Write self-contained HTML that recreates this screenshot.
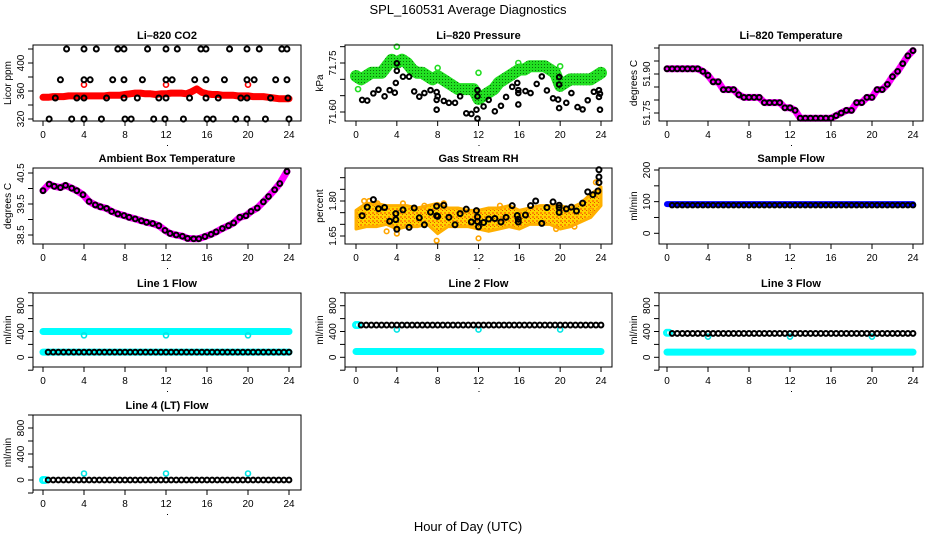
<!DOCTYPE html>
<html><head><meta charset="utf-8"><style>
html,body{margin:0;padding:0;background:#fff;}
svg{display:block;font-family:"Liberation Sans",Arial,sans-serif;}
</style></head><body>
<svg id="chart" width="936" height="540" viewBox="0 0 936 540" xmlns="http://www.w3.org/2000/svg">
<defs>
<pattern id="rhpat" width="4" height="4" patternUnits="userSpaceOnUse">
<rect width="4" height="4" fill="#ffd400"/><rect x="0" y="0" width="2" height="2" fill="#ff8c00"/><rect x="2" y="2" width="1" height="1" fill="#e05000"/>
</pattern>
<pattern id="grpat" width="3" height="3" patternUnits="userSpaceOnUse">
<rect width="3" height="3" fill="#22e022"/><rect x="1" y="1" width="1" height="1" fill="#0a700a"/>
</pattern>
</defs>
<text x="468" y="14" text-anchor="middle" font-size="13">SPL_160531  Average Diagnostics</text>
<text x="468" y="531" text-anchor="middle" font-size="13">Hour of Day (UTC)</text>
</svg>
<script>
// ---------- data ----------
const hours49 = [0,0.5,1,1.5,2,2.5,3,3.5,4,4.5,5,5.5,6,6.5,7,7.5,8,8.5,9,9.5,10,10.5,11,11.5,12,12.5,13,13.5,14,14.5,15,15.5,16,16.5,17,17.5,18,18.5,19,19.5,20,20.5,21,21.5,22,22.5,23,23.5,24];
const hours25 = [0,1,2,3,4,5,6,7,8,9,10,11,12,13,14,15,16,17,18,19,20,21,22,23,24];
const xTicks = [0,4,8,12,16,20,24];

const co2Red = [351,351,352,352,352,353,353,353,353,353,353,353,353,354,354,354,355,356,357,357,356,356,355,356,356,357,357,357,356,359,363,358,356,355,355,354,354,354,353,353,353,352,352,352,351,350,349,349,349];
const co2RedOutH = [4,12,20];
const co2RedOutV = [369,369,369];
const co2BlackH = [2.3,4.0,5.2,7.3,7.9,10.2,12.0,13.1,15.4,15.9,18.2,19.9,21.1,23.3,23.8, 1.7,4.0,4.6,6.8,7.9,9.7,12.0,12.6,14.8,15.9,17.7,19.9,20.6,22.7,23.8, 1.2,3.3,4.0,6.2,7.9,9.2,11.3,12.0,14.3,15.9,17.1,19.3,19.9,22.2,23.9, 0.6,2.8,4.0,5.7,8.0,8.6,10.8,11.9,13.7,16.0,16.6,18.8,19.9,21.7,24.0];
const co2BlackV = [420,420,420,420,420,420,420,420,420,420,420,420,420,420,420, 376,376,376,376,376,376,376,376,376,376,376,376,376,376,376, 350,350,350,350,350,350,350,350,350,350,350,350,350,350,350, 320,320,320,320,320,320,320,320,320,320,320,320,320,320,320];

const presGreen = [71.71,71.70,71.71,71.72,71.72,71.72,71.74,71.76,71.75,71.76,71.75,71.73,71.72,71.72,71.71,71.70,71.71,71.70,71.69,71.68,71.67,71.67,71.67,71.67,71.64,71.65,71.66,71.67,71.69,71.70,71.71,71.72,71.73,71.73,71.74,71.74,71.74,71.74,71.73,71.72,71.68,71.69,71.70,71.70,71.70,71.70,71.70,71.71,71.72];
const presGreenOutH = [4.0,8.0,8.0,12.0,15.9,20.0,23.8,0.2];
const presGreenOutV = [71.80,71.735,71.72,71.72,71.75,71.74,71.715,71.67];
const presBlackH = [0.6,1.1,1.7,2.2,2.8,3.3,3.8,3.9,4.0,4.0,4.6,5.2,5.7,6.2,6.7,7.3,7.9,7.9,8.0,7.9,8.6,9.1,9.7,10.2,10.8,11.3,11.8,11.9,11.9,11.9,12.5,13.0,13.6,14.2,14.7,15.3,15.8,15.9,15.9,15.9,16.6,17.1,17.7,18.2,18.7,19.3,19.8,19.9,19.9,19.9,20.6,21.1,21.7,22.2,22.7,23.3,23.8,23.8,23.9,23.9];
const presBlackV = [71.637,71.635,71.657,71.668,71.648,71.667,71.659,71.689,71.726,71.749,71.708,71.708,71.663,71.647,71.658,71.667,71.661,71.637,71.648,71.607,71.634,71.628,71.628,71.648,71.596,71.594,71.607,71.667,71.648,71.580,71.617,71.637,71.602,71.619,71.646,71.677,71.689,71.667,71.658,71.623,71.664,71.658,71.686,71.709,71.666,71.642,71.638,71.684,71.707,71.612,71.628,71.658,71.615,71.608,71.636,71.662,71.667,71.646,71.656,71.607];

const liTemp = [51.92,51.92,51.92,51.92,51.92,51.92,51.92,51.91,51.895,51.87,51.87,51.84,51.84,51.84,51.82,51.81,51.81,51.81,51.81,51.79,51.79,51.79,51.79,51.77,51.77,51.76,51.73,51.73,51.73,51.73,51.73,51.73,51.73,51.74,51.75,51.76,51.76,51.79,51.79,51.81,51.81,51.84,51.84,51.86,51.89,51.91,51.94,51.97,51.99];

const ambH = [0,0.6,1.1,1.7,2.2,2.8,3.3,3.9,4.5,5.1,5.6,6.2,6.7,7.3,7.9,8.4,9.0,9.6,10.1,10.7,11.3,11.9,12.4,13.0,13.6,14.1,14.7,15.2,15.8,16.4,16.9,17.5,18.1,18.6,19.2,19.8,20.3,20.9,21.5,22.0,22.6,23.1,23.8];
const ambV = [39.93,40.14,40.07,40.03,40.10,40.01,39.93,39.80,39.58,39.47,39.41,39.36,39.26,39.18,39.13,39.07,39.02,38.96,38.91,38.87,38.80,38.65,38.55,38.50,38.46,38.39,38.38,38.38,38.45,38.52,38.60,38.71,38.80,38.89,39.07,39.12,39.26,39.37,39.57,39.74,39.96,40.16,40.55];

const rhLow  = [1.68,1.69,1.69,1.70,1.68,1.69,1.69,1.70,1.66,1.69,1.69,1.69,1.68,1.67,1.68,1.69,1.68,1.70,1.70,1.70,1.68,1.69,1.71,1.73,1.78];
const rhHigh = [1.76,1.79,1.79,1.78,1.78,1.78,1.77,1.78,1.79,1.77,1.77,1.76,1.76,1.77,1.77,1.78,1.76,1.77,1.78,1.78,1.78,1.77,1.79,1.83,1.86];
const rhOutH = [0.8,1.3,2.1,4.6,6.7,7.9,8.6,12.0,14.1,19.6,21.4,23.5,23.0,4.0,3.0];
const rhOutV = [1.80,1.80,1.79,1.79,1.78,1.63,1.79,1.64,1.78,1.68,1.69,1.88,1.76,1.66,1.67];
const rhBlackH = [0.6,1.1,1.7,2.2,2.8,3.3,3.9,3.9,4.0,4.6,5.2,5.7,6.2,6.7,7.3,7.9,7.9,8.0,8.6,9.1,9.7,10.2,10.8,11.3,11.8,11.9,11.9,12.0,12.5,13.0,13.6,14.2,14.7,15.3,15.8,15.9,15.9,16.6,17.1,17.6,18.2,18.7,19.3,19.9,19.9,19.9,20.6,21.1,21.6,22.2,22.7,23.2,23.7,23.8,23.8,23.8];
const rhBlackV = [1.737,1.774,1.806,1.767,1.772,1.713,1.746,1.720,1.679,1.762,1.687,1.770,1.728,1.698,1.752,1.778,1.737,1.734,1.782,1.730,1.698,1.746,1.765,1.710,1.759,1.732,1.712,1.689,1.708,1.723,1.725,1.710,1.730,1.780,1.738,1.722,1.710,1.740,1.780,1.800,1.704,1.772,1.796,1.782,1.771,1.751,1.766,1.774,1.757,1.791,1.839,1.827,1.843,1.879,1.903,1.934];

const sampleBlue  = [92,92,92,92,92,92,92,92,92,92,92,92,92,92,92,92,92,92,92,92,92,92,92,92,92,92,92,92,92,92,92,92,92,92,92,92,92,92,92,92,92,92,92,92,92,92,92,92,92];
const sampleBlack = [89,89,89,89,89,89,89,89,89,89,89,89,89,89,89,89,89,89,89,89,89,89,89,89,89,89,89,89,89,89,89,89,89,89,89,89,89,89,89,89,89,89,89,89,89,89,89,89];

const line1CyanHigh = [400,400,400,400,400,400,400,400,400,400,400,400,400,400,400,400,400,400,400,400,400,400,400,400,400];
const line1CyanLow  = [80,80,80,80,80,80,80,80,80,80,80,80,80,80,80,80,80,80,80,80,80,80,80,80,80];
const line1Black    = [80,80,80,80,80,80,80,80,80,80,80,80,80,80,80,80,80,80,80,80,80,80,80,80,80,80,80,80,80,80,80,80,80,80,80,80,80,80,80,80,80,80,80,80,80,80,80,80];
const line2CyanLow  = [90,90,90,90,90,90,90,90,90,90,90,90,90,90,90,90,90,90,90,90,90,90,90,90,90];
const line2Black    = [500,500,500,500,500,500,500,500,500,500,500,500,500,500,500,500,500,500,500,500,500,500,500,500,500,500,500,500,500,500,500,500,500,500,500,500,500,500,500,500,500,500,500,500,500,500,500,500];
const line3CyanLow  = [80,80,80,80,80,80,80,80,80,80,80,80,80,80,80,80,80,80,80,80,80,80,80,80,80];
const line3Black    = [370,370,370,370,370,370,370,370,370,370,370,370,370,370,370,370,370,370,370,370,370,370,370,370,370,370,370,370,370,370,370,370,370,370,370,370,370,370,370,370,370,370,370,370,370,370,370,370];
const line4Black    = [0,0,0,0,0,0,0,0,0,0,0,0,0,0,0,0,0,0,0,0,0,0,0,0,0,0,0,0,0,0,0,0,0,0,0,0,0,0,0,0,0,0,0,0,0,0,0,0];
const line1DipH = [4,12,20], line1DipV = [340,340,340];
const line2DipH = [4,12,20], line2DipV = [430,430,430];
const line3DipH = [4,12,20], line3DipV = [320,320,320];
const line4BlipH = [4,12,20], line4BlipV = [100,100,100];
const lineStartCyanH = [0,0.2];
const line2StartV = [500,500];
const line3StartV = [380,380];
const line4StartV = [0,0];

// ---------- drawing ----------
const NS = "http://www.w3.org/2000/svg";
const svg = document.getElementById('chart');
function el(tag, attrs, parent){
  const e = document.createElementNS(NS, tag);
  for (const k in attrs) e.setAttribute(k, attrs[k]);
  (parent || svg).appendChild(e);
  return e;
}
const cols = [{x0:43,x24:289,left:33,right:301},{x0:356,x24:601,left:345,right:612},{x0:667,x24:913,left:659,right:923}];
const rows = [{top:45,bottom:121},{top:168,bottom:244},{top:293,bottom:367},{top:415,bottom:490}];

function makePanel(name, title, col, row, ylab, v1, p1, v2, p2, ticks, labels){
  const c = cols[col], r = rows[row];
  const g = el('g', {});
  
  
  const sx = h => c.x0 + (c.x24 - c.x0) * h / 24;
  const sy = v => p1 + (p2 - p1) * (v - v1) / (v2 - v1);
  const marks = el('g', {}, g);
  
  
  const frame = el('rect', {x:c.left, y:r.top, width:c.right-c.left, height:r.bottom-r.top, fill:'none', stroke:'#000', 'stroke-width':1}, g);
  
  
  const t = el('text', {x:(c.left+c.right)/2, y:r.top-6, 'text-anchor':'middle', 'font-size':11, 'font-weight':'bold'}, g);
  t.textContent = title;
  
  
  const xa = el('g', {}, g);
  
  
  el('line', {x1:sx(0), x2:sx(24), y1:r.bottom, y2:r.bottom, stroke:'#000'}, xa);
  xTicks.forEach(h => {
    el('line', {x1:sx(h), x2:sx(h), y1:r.bottom, y2:r.bottom+5, stroke:'#000'}, xa);
    const tl = el('text', {x:sx(h), y:r.bottom+17, 'text-anchor':'middle', 'font-size':10}, xa);
    tl.textContent = h;
    
    
  });
  el('rect', {x:(c.left+c.right)/2, y:r.bottom+24, width:1, height:1, fill:'#000'}, xa);
  const ya = el('g', {}, g);
  
  
  el('line', {x1:c.left, x2:c.left, y1:sy(ticks[0]), y2:sy(ticks[ticks.length-1]), stroke:'#000'}, ya);
  ticks.forEach(v => {
    el('line', {x1:c.left-5, x2:c.left, y1:sy(v), y2:sy(v), stroke:'#000'}, ya);
  });
  labels.forEach(lbl => {
    const yy = sy(parseFloat(lbl));
    const tl = el('text', {x:c.left-9, y:yy, 'text-anchor':'middle', 'font-size':10, transform:'rotate(-90 '+(c.left-9)+' '+yy+')'}, ya);
    tl.textContent = lbl;
    
    
  });
  const yl = el('text', {x:c.left-22, y:(r.top+r.bottom)/2, 'text-anchor':'middle', 'font-size':10, transform:'rotate(-90 '+(c.left-22)+' '+((r.top+r.bottom)/2)+')'}, ya);
  yl.textContent = ylab;
  
  
  return {sx, sy, g:marks};
}
function band(P, hs, vs, color, w, name){
  const p = hs.map((h,i) => P.sx(h)+','+P.sy(vs[i])).join(' ');
  const pl = el('polyline', {points:p, fill:'none', stroke:color, 'stroke-width':w, 'stroke-linejoin':'round', 'stroke-linecap':'round'}, P.g);
  
  
}
function pts(P, hs, vs, color, r, sw, name){
  const gg = el('g', {}, P.g);
  
  
  vs.forEach((v,i) => {
    el('circle', {cx:P.sx(hs[i]), cy:P.sy(v), r:r, fill:'none', stroke:color, 'stroke-width':sw}, gg);
  });
}
const blackHalf = hours49.slice(1);

let P = makePanel('co2', 'Li\u2013820 CO2', 0, 0, 'Licor ppm', 320, 119, 400, 63, [320,340,360,380,400,420], ['320','360','400']);
band(P, hours49, co2Red, '#ff0000', 7, 'co2-red-series');
pts(P, co2RedOutH, co2RedOutV, '#ff0000', 2.5, 1.6, 'co2-red-outliers');
pts(P, co2BlackH, co2BlackV, '#000', 2.5, 2, 'co2-black-points');

P = makePanel('pressure', 'Li\u2013820 Pressure', 1, 0, 'kPa', 71.60, 112, 71.75, 63, [71.60,71.65,71.70,71.75,71.80], ['71.60','71.75']);
band(P, hours49, presGreen, 'url(#grpat)', 12, 'pressure-green-series');
pts(P, presGreenOutH, presGreenOutV, '#22dd22', 2.5, 1.6, 'pressure-green-outliers');
pts(P, presBlackH, presBlackV, '#000', 2.3, 2, 'pressure-black-points');

P = makePanel('li-temp', 'Li\u2013820 Temperature', 2, 0, 'degrees C', 51.75, 113, 51.90, 74, [51.75,51.80,51.85,51.90,51.95,52.00], ['51.75','51.90']);
band(P, hours49, liTemp, '#ff00ff', 7, 'li-temp-magenta-series');
pts(P, hours49, liTemp, '#000', 2.4, 2, 'li-temp-black-points');

P = makePanel('ambient', 'Ambient Box Temperature', 0, 1, 'degrees C', 38.5, 235, 40.5, 173, [38.5,39.0,39.5,40.0,40.5], ['38.5','39.5','40.5']);
band(P, ambH, ambV, '#ff00ff', 7, 'ambient-magenta-series');
pts(P, ambH, ambV, '#000', 2.4, 2, 'ambient-black-points');

P = makePanel('rh', 'Gas Stream RH', 1, 1, 'percent', 1.65, 236, 1.80, 201, [1.65,1.70,1.75,1.80,1.85,1.90], ['1.65','1.80']);
{
  const up = hours25.map((h,i) => P.sx(h)+','+P.sy(rhHigh[i]));
  const dn = hours25.map((h,i) => P.sx(h)+','+P.sy(rhLow[i])).reverse();
  const poly = el('polygon', {points:up.concat(dn).join(' '), fill:'url(#rhpat)', stroke:'#ffb000', 'stroke-width':3, 'stroke-linejoin':'round'}, P.g);
  
  
}
pts(P, rhOutH, rhOutV, '#ffa500', 2.3, 1.6, 'rh-orange-outliers');
pts(P, rhBlackH, rhBlackV, '#000', 2.5, 2, 'rh-black-points');

P = makePanel('sample-flow', 'Sample Flow', 2, 1, 'ml/min', 0, 233.3, 200, 170, [0,50,100,150,200], ['0','100','200']);
band(P, hours49, sampleBlue, '#0000ff', 6, 'sample-flow-blue-series');
pts(P, blackHalf, sampleBlack, '#000', 2.3, 2, 'sample-flow-black-points');

P = makePanel('line1-flow', 'Line 1 Flow', 0, 2, 'ml/min', 0, 357.3, 800, 305.7, [-200,0,200,400,600,800,1000], ['0','400','800']);
band(P, hours25, line1CyanHigh, '#00ffff', 7, 'line1-cyan-high-series');
pts(P, line1DipH, line1DipV, '#00e5e5', 2.5, 1.6, 'line1-cyan-dips');
band(P, hours25, line1CyanLow, '#00ffff', 7, 'line1-cyan-low-series');
pts(P, blackHalf, line1Black, '#000', 2.4, 2, 'line1-black-points');

P = makePanel('line2-flow', 'Line 2 Flow', 1, 2, 'ml/min', 0, 357.3, 800, 305.7, [-200,0,200,400,600,800,1000], ['0','400','800']);
band(P, hours25, line2CyanLow, '#00ffff', 7, 'line2-cyan-low-series');
pts(P, lineStartCyanH, line2StartV, '#00ffff', 3, 2, 'line2-cyan-start');
pts(P, line2DipH, line2DipV, '#00e5e5', 2.5, 1.6, 'line2-cyan-dips');
pts(P, blackHalf, line2Black, '#000', 2.4, 2, 'line2-black-points');

P = makePanel('line3-flow', 'Line 3 Flow', 2, 2, 'ml/min', 0, 357.3, 800, 305.7, [-200,0,200,400,600,800,1000], ['0','400','800']);
band(P, hours25, line3CyanLow, '#00ffff', 7, 'line3-cyan-low-series');
pts(P, lineStartCyanH, line3StartV, '#00ffff', 3, 2, 'line3-cyan-start');
pts(P, line3DipH, line3DipV, '#00e5e5', 2.5, 1.6, 'line3-cyan-dips');
pts(P, blackHalf, line3Black, '#000', 2.4, 2, 'line3-black-points');

P = makePanel('line4-flow', 'Line 4 (LT) Flow', 0, 3, 'ml/min', 0, 480, 800, 428, [-200,0,200,400,600,800,1000], ['0','400','800']);
pts(P, lineStartCyanH, line4StartV, '#00ffff', 3, 2, 'line4-cyan-start');
pts(P, line4BlipH, line4BlipV, '#00e5e5', 2.5, 1.6, 'line4-cyan-blips');
pts(P, blackHalf, line4Black, '#000', 2.4, 2, 'line4-black-points');
</script>
</body></html>
